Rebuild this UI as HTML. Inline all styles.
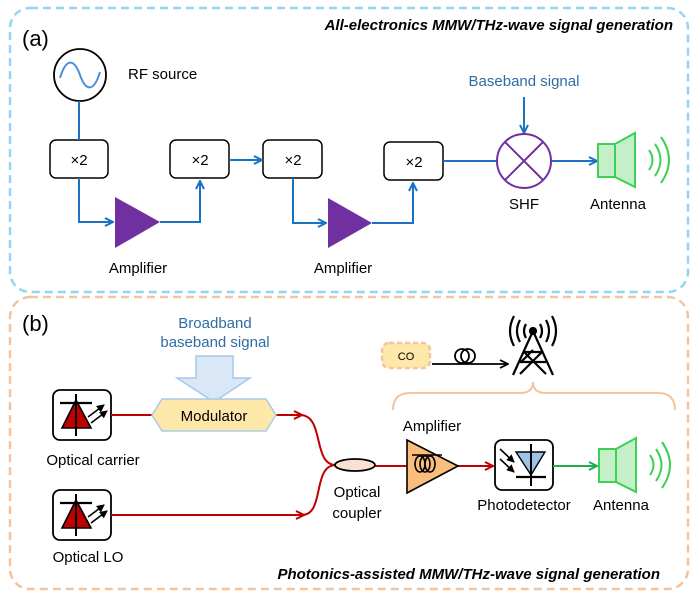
<!DOCTYPE html>
<html><head><meta charset="utf-8"><style>
body{margin:0;background:#fff}
svg{display:block;font-family:"Liberation Sans",Arial,sans-serif}
</style></head><body>
<svg width="698" height="597" viewBox="0 0 698 597" xmlns="http://www.w3.org/2000/svg">
<defs>
<marker id="ab" markerWidth="10" markerHeight="10" refX="9" refY="5" orient="auto" markerUnits="userSpaceOnUse"><path d="M1,1 L9,5 L1,9" fill="none" stroke="#1a72c4" stroke-width="2"/></marker>
<marker id="ar" markerWidth="10" markerHeight="10" refX="9" refY="5" orient="auto" markerUnits="userSpaceOnUse"><path d="M1,1 L9,5 L1,9" fill="none" stroke="#c00000" stroke-width="2"/></marker>
<marker id="ag" markerWidth="10" markerHeight="10" refX="9" refY="5" orient="auto" markerUnits="userSpaceOnUse"><path d="M1,1 L9,5 L1,9" fill="none" stroke="#1fae4a" stroke-width="2"/></marker>
<marker id="ak" markerWidth="10" markerHeight="10" refX="9" refY="5" orient="auto" markerUnits="userSpaceOnUse"><path d="M1,1 L9,5 L1,9" fill="none" stroke="#000" stroke-width="1.8"/></marker>
<marker id="akS" markerWidth="8" markerHeight="8" refX="7" refY="4" orient="auto" markerUnits="userSpaceOnUse"><path d="M0,0 L8,4 L0,8 Z" fill="#000"/></marker>
<g id="laser">
<rect x="0" y="0" width="58" height="50" rx="7" fill="#fff" stroke="#000" stroke-width="1.8"/>
<path d="M23,10 L38,38 L9,38 Z" fill="#c00000" stroke="#000" stroke-width="1.6"/>
<line x1="7" y1="13" x2="39" y2="13" stroke="#000" stroke-width="2.2"/>
<line x1="23" y1="4" x2="23" y2="46" stroke="#000" stroke-width="2"/>
<line x1="35" y1="27" x2="51" y2="15" stroke="#000" stroke-width="1.6" marker-end="url(#akS)"/>
<line x1="38" y1="33" x2="54" y2="21" stroke="#000" stroke-width="1.6" marker-end="url(#akS)"/>
</g>
<g id="ant">
<rect x="0" y="11" width="17" height="33" fill="#c4efc9" stroke="#3ecf55" stroke-width="2"/>
<path d="M17,11 L37,0 L37,54 L17,44 Z" fill="#c4efc9" stroke="#3ecf55" stroke-width="2"/>
<path d="M51,17 Q58,27 51,37" fill="none" stroke="#3ecf55" stroke-width="2"/>
<path d="M57,11 Q68,27 57,43" fill="none" stroke="#3ecf55" stroke-width="2"/>
<path d="M63,4 Q79,27 63,50" fill="none" stroke="#3ecf55" stroke-width="2"/>
</g>
</defs>

<rect x="10" y="8" width="678" height="284" rx="20" fill="none" stroke="#93d6f4" stroke-width="2.5" stroke-dasharray="8,5"/>
<rect x="10" y="297" width="678" height="292" rx="20" fill="none" stroke="#f2c4a0" stroke-width="2.5" stroke-dasharray="8,5"/>

<text x="22" y="46" font-size="22">(a)</text>
<text x="673" y="30" font-size="15" font-weight="bold" font-style="italic" text-anchor="end">All-electronics MMW/THz-wave signal generation</text>

<circle cx="80" cy="75" r="26" fill="#fff" stroke="#000" stroke-width="1.8"/>
<path d="M60,78 C66,58 74,58 80,75 C86,92 94,92 100,72" fill="none" stroke="#4a90d9" stroke-width="2"/>
<text x="128" y="79" font-size="15">RF source</text>

<g fill="#fff" stroke="#000" stroke-width="1.5">
<rect x="50" y="140" width="58" height="38" rx="6"/>
<rect x="170" y="140" width="59" height="38" rx="6"/>
<rect x="263" y="140" width="59" height="38" rx="6"/>
<rect x="384" y="142" width="59" height="38" rx="6"/>
</g>
<g font-size="15" text-anchor="middle">
<text x="79" y="165">×2</text><text x="200" y="165">×2</text><text x="293" y="165">×2</text><text x="414" y="167">×2</text>
</g>
<g fill="none" stroke="#1a72c4" stroke-width="2">
<line x1="79" y1="101" x2="79" y2="140"/>
<path d="M79,178 V222 H113" marker-end="url(#ab)"/>
<path d="M160,222 H200 V181" marker-end="url(#ab)"/>
<line x1="229" y1="160" x2="262" y2="160" marker-end="url(#ab)"/>
<path d="M293,178 V223 H326" marker-end="url(#ab)"/>
<path d="M372,223 H413 V183" marker-end="url(#ab)"/>
<line x1="443" y1="161" x2="496" y2="161"/>
<line x1="524" y1="97" x2="524" y2="133" marker-end="url(#ab)"/>
<line x1="552" y1="161" x2="597" y2="161" marker-end="url(#ab)"/>
</g>
<path d="M115,197 L160,222 L115,248 Z" fill="#7030a0"/>
<path d="M328,198 L372,223 L328,248 Z" fill="#7030a0"/>
<circle cx="524" cy="161" r="27" fill="#fff" stroke="#7030a0" stroke-width="2"/>
<line x1="505" y1="142" x2="543" y2="180" stroke="#7030a0" stroke-width="2"/>
<line x1="543" y1="142" x2="505" y2="180" stroke="#7030a0" stroke-width="2"/>
<text x="524" y="86" font-size="15" fill="#2e6da4" text-anchor="middle">Baseband signal</text>
<use href="#ant" x="598" y="133"/>
<g font-size="15" text-anchor="middle">
<text x="138" y="273">Amplifier</text><text x="343" y="273">Amplifier</text>
<text x="524" y="209">SHF</text><text x="618" y="209">Antenna</text>
</g>

<text x="22" y="331" font-size="22">(b)</text>
<text x="215" y="328" font-size="15" fill="#2e6da4" text-anchor="middle">Broadband</text>
<text x="215" y="347" font-size="15" fill="#2e6da4" text-anchor="middle">baseband signal</text>
<path d="M196,356 H233 V378 H250 L214,402 L177,378 H196 Z" fill="#d9e7f6" stroke="#a6c8ea" stroke-width="1.5"/>

<use href="#laser" x="53" y="390"/>
<use href="#laser" x="53" y="490"/>
<text x="93" y="465" font-size="15" text-anchor="middle">Optical carrier</text>
<text x="88" y="562" font-size="15" text-anchor="middle">Optical LO</text>

<g fill="none" stroke="#c00000" stroke-width="2">
<line x1="111" y1="415" x2="153" y2="415"/>
<line x1="276" y1="415" x2="302" y2="415" marker-end="url(#ar)"/>
<path d="M300,415 C325,415 312,465 336,465"/>
<line x1="111" y1="515" x2="304" y2="515" marker-end="url(#ar)"/>
<path d="M302,515 C325,515 312,465 336,465"/>
<line x1="375" y1="466" x2="407" y2="466"/>
<line x1="458" y1="466" x2="493" y2="466" marker-end="url(#ar)"/>
</g>
<path d="M152,415 L162,399 H266 L276,415 L266,431 H162 Z" fill="#fde7a9" stroke="#a9cbe6" stroke-width="1.5"/>
<text x="214" y="421" font-size="15" text-anchor="middle">Modulator</text>
<ellipse cx="355" cy="465" rx="20" ry="6" fill="#fbe1d3" stroke="#000" stroke-width="1.8"/>
<text x="357" y="497" font-size="15" text-anchor="middle">Optical</text>
<text x="357" y="518" font-size="15" text-anchor="middle">coupler</text>

<path d="M407,440 L458,466 L407,493 Z" fill="#f9bd7e" stroke="#000" stroke-width="1.6"/>
<g fill="none" stroke="#000" stroke-width="1.6">
<line x1="412" y1="455" x2="442" y2="455"/>
<ellipse cx="420" cy="464" rx="5" ry="8"/><ellipse cx="425" cy="464" rx="5" ry="8"/><ellipse cx="430" cy="464" rx="5" ry="8"/>
</g>
<text x="432" y="431" font-size="15" text-anchor="middle">Amplifier</text>

<rect x="495" y="440" width="58" height="50" rx="7" fill="#fff" stroke="#000" stroke-width="1.8"/>
<path d="M516,452 L545,452 L531,475 Z" fill="#9dc3e6" stroke="#000" stroke-width="1.4"/>
<line x1="516" y1="477" x2="546" y2="477" stroke="#000" stroke-width="2.2"/>
<line x1="531" y1="444" x2="531" y2="486" stroke="#000" stroke-width="2"/>
<line x1="500" y1="449" x2="514" y2="462" stroke="#000" stroke-width="1.6" marker-end="url(#akS)"/>
<line x1="500" y1="459" x2="514" y2="472" stroke="#000" stroke-width="1.6" marker-end="url(#akS)"/>
<line x1="553" y1="466" x2="597" y2="466" stroke="#1fae4a" stroke-width="2" marker-end="url(#ag)"/>
<use href="#ant" x="599" y="438"/>
<text x="524" y="510" font-size="15" text-anchor="middle">Photodetector</text>
<text x="621" y="510" font-size="15" text-anchor="middle">Antenna</text>

<rect x="382" y="343" width="48" height="25" rx="7" fill="#fde7a9" stroke="#f2c4a0" stroke-width="2.5" stroke-dasharray="5,3"/>
<text x="406" y="360" font-size="11" text-anchor="middle">CO</text>
<g fill="none" stroke="#000" stroke-width="1.8">
<line x1="432" y1="364" x2="508" y2="364" marker-end="url(#ak)"/>
<circle cx="462" cy="356" r="7"/><circle cx="468" cy="356" r="7"/>
</g>
<g fill="none" stroke="#000" stroke-width="2.2">
<path d="M533,331 L513,375 M533,331 L553,375 M524,352 L542,352 M520,362 L546,362 M524,352 L546,374 M542,352 L520,374 M521,362 L533,350"/>
<circle cx="533" cy="331" r="3" fill="#000"/>
<path d="M526,324 Q522,331 526,338 M540,324 Q544,331 540,338"/>
<path d="M520,320 Q514,331 520,342 M546,320 Q552,331 546,342"/>
<path d="M514,316 Q506,331 514,346 M552,316 Q560,331 552,346"/>
</g>
<path d="M393,410 Q393,393 410,393 H520 Q533,393 533,382 Q533,393 546,393 H658 Q675,393 675,410" fill="none" stroke="#f2c4a0" stroke-width="2"/>

<text x="660" y="579" font-size="15" font-weight="bold" font-style="italic" text-anchor="end">Photonics-assisted MMW/THz-wave signal generation</text>
</svg>
</body></html>
